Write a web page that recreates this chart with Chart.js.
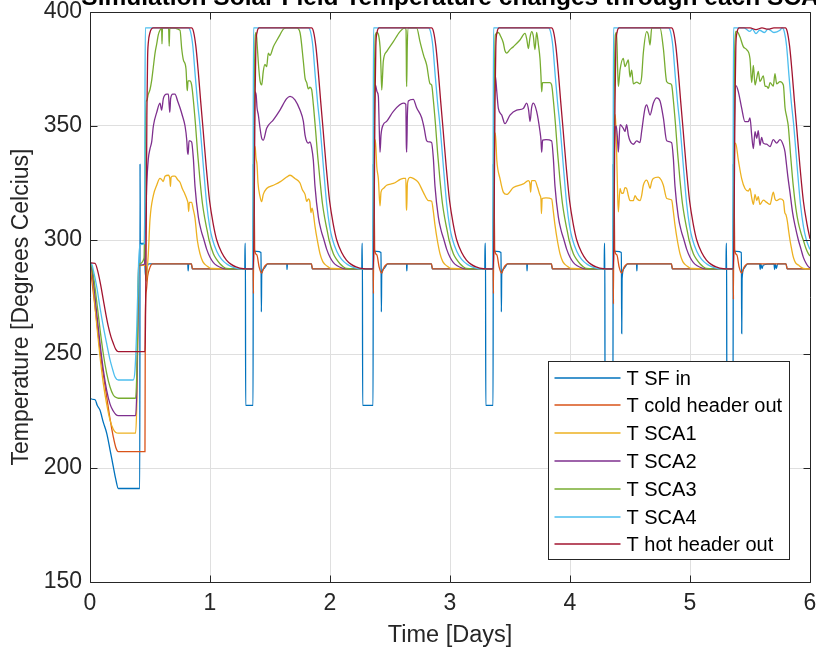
<!DOCTYPE html>
<html>
<head>
<meta charset="utf-8">
<script src="https://cdn.jsdelivr.net/npm/chart.js@4.4.1/dist/chart.umd.min.js"></script>
<style>
  html, body { margin: 0; padding: 0; background: #ffffff; }
  #chart { display: block; }
</style>
</head>
<body>
<canvas id="chart" width="816" height="653"></canvas>
<script>
// values: [day, temperature]
const chartTitle = "Simulation Solar Field Temperature changes through each SCA";
const yAxisTitle = "Temperature [Degrees Celcius]";
const seriesLabels = ["T SF in", "T cold header out", "T SCA1", "T SCA2", "T SCA3", "T SCA4", "T hot header out"];
const xTicks = [0, 1, 2, 3, 4, 5, 6];
const yTicks = [150, 200, 250, 300, 350, 400];

const tSfIn = [
  [0,290],[0.002,230.5],[0.042,230],[0.06,227.5],[0.083,225.4],[0.111,220],[0.139,215.3],[0.167,208],[0.194,200.6],[0.215,195],[0.236,191],[0.415,191],[0.417,333.5],[0.419,298.5],[0.456,298.5],[0.458,289],[0.465,284],[0.47,282],[0.475,287],[0.49,289.5],[0.815,289.5],[0.818,286.5],[0.822,289.5],[0.845,289.5],[0.852,287.3],
  [1.29,287.3],[1.292,298.5],[1.295,298.5],[1.297,227.5],[1.359,227.5],[1.361,333.5],[1.364,295],[1.39,295],[1.425,294.5],[1.428,268.5],[1.431,285],[1.45,287.5],[1.48,289.5],[1.64,289.5],[1.642,287],[1.645,289.5],[1.845,289.5],[1.852,287.3],
  [2.265,287.3],[2.267,298.5],[2.27,298.5],[2.272,227.5],[2.359,227.5],[2.361,333.5],[2.364,295],[2.39,295],[2.425,294.5],[2.428,268.5],[2.431,285],[2.45,287.5],[2.48,289.5],[2.638,289.5],[2.64,286.5],[2.643,289.5],[2.845,289.5],[2.852,287.3],
  [3.29,287.3],[3.292,298.5],[3.296,298.5],[3.298,227.5],[3.359,227.5],[3.361,333.5],[3.364,295],[3.39,295],[3.425,294.5],[3.428,268.5],[3.431,285],[3.45,287.5],[3.48,289.5],[3.64,289.5],[3.642,286.5],[3.645,289.5],[3.845,289.5],[3.852,287.3],
  [4.285,287.3],[4.287,298.5],[4.29,298.5],[4.292,227.5],[4.358,227.5],[4.36,333.5],[4.363,295],[4.39,295],[4.428,294.5],[4.431,259],[4.434,283],[4.45,287.5],[4.48,289.5],[4.555,289.5],[4.557,286.5],[4.56,289.5],[4.845,289.5],[4.852,287.3],
  [5.3,287.3],[5.302,298.5],[5.305,298.5],[5.307,227.5],[5.359,227.5],[5.361,333.5],[5.364,295],[5.39,295],[5.428,294.5],[5.431,259],[5.434,283],[5.45,287.5],[5.48,289.5],[5.58,289.5],[5.585,287],[5.59,289.5],[5.6,287.5],[5.61,289],[5.7,289.5],[5.705,287],[5.71,289.5],[5.72,287.5],[5.73,289.5],[5.8,289.5],[5.81,287.3],[6,287.3]
];

const tColdOut = [
  [0,290],[0.014,283],[0.042,270.7],[0.083,251.8],[0.111,241],[0.139,231.3],[0.167,221.5],[0.194,213.7],[0.215,209],[0.236,207.2],[0.458,207.2],[0.461,266],[0.47,278],[0.48,284],[0.5,288],[0.52,289.5],[0.845,289.5],[0.855,287.3],
  [1.36,287.3],[1.362,276.5],[1.367,328],[1.372,296],[1.39,293.5],[1.41,288],[1.43,285.5],[1.45,288],[1.48,289.5],[1.845,289.5],[1.855,287.3],
  [2.36,287.3],[2.362,276.5],[2.367,325],[2.372,296],[2.39,293.5],[2.41,288],[2.43,285.5],[2.45,288],[2.48,289.5],[2.845,289.5],[2.855,287.3],
  [3.36,287.3],[3.362,276.5],[3.367,325],[3.372,296],[3.39,293.5],[3.41,288],[3.43,285.5],[3.45,288],[3.48,289.5],[3.845,289.5],[3.855,287.3],
  [4.36,287.3],[4.362,272],[4.367,328],[4.372,296],[4.39,293.5],[4.41,288],[4.43,285.5],[4.45,288],[4.48,289.5],[4.845,289.5],[4.855,287.3],
  [5.36,287.3],[5.362,274],[5.367,326],[5.372,296],[5.39,293.5],[5.41,288],[5.43,285.5],[5.45,288],[5.48,289.5],[5.8,289.5],[5.81,287.3],[6,287.3]
];

const tSca1 = [
  [0,290],[0.014,286],[0.035,275],[0.056,263],[0.083,249],[0.111,237],[0.139,228],[0.167,221],[0.194,217],[0.215,215.6],[0.236,215.3],[0.38,215.3],[0.39,228],[0.4,262],[0.405,286],[0.41,288.5],[0.463,289],[0.468,282],[0.478,288],[0.486,294],[0.5,309],[0.528,319.6],[0.556,324],[0.583,327],[0.597,326.5],[0.61,325.6],[0.625,328],[0.653,328.4],[0.665,327],[0.67,323.5],[0.676,327.5],[0.69,328],[0.708,328],[0.73,326.5],[0.75,325.3],[0.77,322.5],[0.792,320],[0.81,317.5],[0.817,316],[0.822,312.5],[0.828,316.5],[0.847,316.5],[0.86,313.5],[0.875,309.6],[0.894,300],[0.917,293.9],[0.94,290.5],[0.958,289.3],[0.985,288.2],[1.014,287.5],
  [1.359,287.3],[1.362,300],[1.367,330],[1.376,341],[1.383,336],[1.392,333],[1.4,325],[1.417,319],[1.43,316.8],[1.444,320],[1.472,322.6],[1.528,324],[1.583,325.5],[1.639,327.6],[1.667,328.4],[1.708,327],[1.75,325],[1.77,322],[1.792,320],[1.806,317],[1.82,318],[1.833,316.5],[1.841,312],[1.85,314],[1.86,312],[1.875,306],[1.894,300],[1.917,293.9],[1.94,290.5],[1.958,289.3],[1.985,288.2],[2.014,287.5],
  [2.359,287.3],[2.362,300],[2.368,330],[2.378,344],[2.39,332],[2.403,326.8],[2.412,318],[2.417,315],[2.425,321],[2.444,322.6],[2.472,324],[2.528,324.8],[2.611,327],[2.632,327],[2.636,315],[2.639,313],[2.645,325],[2.667,327.5],[2.694,327],[2.736,325.3],[2.778,320.9],[2.819,317.3],[2.847,317],[2.86,313],[2.875,306.5],[2.894,300],[2.917,293.9],[2.94,290.5],[2.958,289.3],[2.985,288.2],[3.014,287.5],
  [3.359,287.3],[3.362,300],[3.368,332],[3.378,347],[3.39,335],[3.417,326.8],[3.444,321],[3.472,320],[3.528,323],[3.611,324.6],[3.653,326],[3.665,325],[3.672,321],[3.68,326],[3.708,326],[3.73,323],[3.75,319.6],[3.758,318],[3.762,311.6],[3.768,318.2],[3.8,318.5],[3.847,318],[3.86,313],[3.875,306.5],[3.894,300],[3.917,293.9],[3.94,290.5],[3.958,289.3],[3.985,288.2],[4.014,287.5],
  [4.359,287.3],[4.362,300],[4.368,340],[4.378,355],[4.388,340],[4.398,318],[4.403,312.3],[4.417,322.6],[4.43,320.5],[4.444,320.5],[4.458,323],[4.472,322.6],[4.486,319.5],[4.5,317.3],[4.528,317.3],[4.542,319.5],[4.556,318.2],[4.583,317.3],[4.597,319.5],[4.611,324],[4.639,326.3],[4.655,324.5],[4.667,322.6],[4.68,325.5],[4.694,327],[4.736,327.6],[4.76,326.3],[4.778,324],[4.806,318.2],[4.847,317.5],[4.86,313],[4.875,306.5],[4.894,300],[4.917,293.9],[4.94,290.5],[4.958,289.3],[4.985,288.2],[5.014,287.5],
  [5.36,287.3],[5.362,300],[5.368,330],[5.38,342.5],[5.403,335],[5.431,326.8],[5.458,322.6],[5.486,321.5],[5.5,322.6],[5.514,318.6],[5.528,315.6],[5.542,320],[5.556,317.3],[5.569,319],[5.583,315.6],[5.611,317.5],[5.639,316.5],[5.667,315.6],[5.694,321],[5.708,318],[5.722,317.3],[5.75,318],[5.778,317.3],[5.79,312],[5.8,311],[5.812,308],[5.822,304],[5.833,300],[5.847,296],[5.861,292.5],[5.88,290],[5.903,289],[5.944,287.6],[6,287.3]
];

const tSca2 = [
  [0,290],[0.014,287.5],[0.035,279],[0.056,268],[0.083,255],[0.111,243],[0.139,234],[0.167,228],[0.194,225],[0.215,223.5],[0.236,223],[0.38,223],[0.39,234],[0.4,266],[0.405,287],[0.41,289],[0.455,289.5],[0.462,305],[0.472,323.4],[0.486,335.6],[0.5,340],[0.514,343],[0.528,350],[0.556,356],[0.583,360],[0.597,357],[0.611,362],[0.639,364],[0.653,364],[0.66,359],[0.665,356],[0.672,362],[0.69,364],[0.708,364],[0.73,361],[0.75,358],[0.77,354.5],[0.792,350],[0.806,344],[0.812,339],[0.818,337.6],[0.825,343.5],[0.833,343.5],[0.847,343],[0.861,336],[0.875,323.5],[0.903,310],[0.927,304],[0.95,300],[0.972,296],[1.0,292.4],[1.027,290.2],[1.056,288.8],[1.107,287.6],[1.15,287.3],
  [1.359,287.3],[1.362,300],[1.368,340],[1.375,365],[1.385,363.5],[1.392,358],[1.403,354.8],[1.417,349],[1.431,344.6],[1.444,343.8],[1.472,349],[1.528,352.7],[1.583,357],[1.639,362],[1.667,363],[1.708,361.5],[1.75,357],[1.778,352],[1.792,346],[1.806,343.2],[1.82,342.5],[1.833,343],[1.847,340.5],[1.861,335],[1.875,323.5],[1.903,310],[1.927,304],[1.95,300],[1.972,296],[2.0,292.4],[2.027,290.2],[2.056,288.8],[2.107,287.6],[2.15,287.3],
  [2.359,287.3],[2.362,300],[2.368,345],[2.378,368],[2.392,365],[2.403,363],[2.41,350],[2.417,338.5],[2.425,346],[2.444,350.6],[2.472,352],[2.528,356.4],[2.611,360],[2.632,359.5],[2.636,342],[2.639,338.5],[2.645,355],[2.653,361],[2.694,361.7],[2.722,358],[2.764,353.6],[2.785,349],[2.806,343.5],[2.83,343],[2.847,342.7],[2.861,336],[2.875,323.5],[2.903,310],[2.927,304],[2.95,300],[2.972,296],[3.0,292.4],[3.027,290.2],[3.056,288.8],[3.107,287.6],[3.15,287.3],
  [3.359,287.3],[3.362,300],[3.368,350],[3.378,372],[3.39,365],[3.403,357.7],[3.431,354.8],[3.458,351],[3.5,354.8],[3.556,357],[3.611,357.7],[3.639,360],[3.655,357],[3.667,352],[3.68,358],[3.694,360],[3.722,356.4],[3.75,347.6],[3.758,344],[3.764,338.5],[3.772,343.8],[3.8,344],[3.847,343.5],[3.861,336],[3.875,323.5],[3.903,310],[3.927,304],[3.95,300],[3.972,296],[4.0,292.4],[4.027,290.2],[4.056,288.8],[4.107,287.6],[4.15,287.3],
  [4.359,287.3],[4.362,300],[4.37,340],[4.385,350],[4.395,345],[4.403,338.5],[4.417,350.6],[4.444,349],[4.458,347.6],[4.472,350.6],[4.486,346],[4.5,343.5],[4.528,342],[4.556,343.5],[4.583,342.7],[4.597,347.6],[4.625,357.7],[4.639,359.3],[4.667,354.8],[4.694,360],[4.722,362.3],[4.75,361],[4.778,353.6],[4.806,343.5],[4.847,342.7],[4.861,336],[4.875,323.5],[4.903,310],[4.927,304],[4.95,300],[4.972,296],[5.0,292.4],[5.027,290.2],[5.056,288.8],[5.107,287.6],[5.15,287.3],
  [5.36,287.3],[5.363,310],[5.37,350],[5.383,367.7],[5.403,365],[5.431,357.7],[5.458,351.9],[5.486,351.9],[5.5,353.6],[5.514,346],[5.528,340.1],[5.542,347.5],[5.556,344.6],[5.569,348],[5.583,341.5],[5.597,345],[5.611,342.5],[5.639,342],[5.667,341],[5.694,344],[5.722,342.5],[5.75,344],[5.778,341.5],[5.792,338.5],[5.8,335],[5.815,328],[5.833,321],[5.855,312],[5.875,306.4],[5.903,300],[5.925,296],[5.944,292.5],[5.965,290],[5.986,288.3],[6,287.8]
];

const tSca3 = [
  [0,290],[0.014,288.5],[0.035,282],[0.056,273],[0.083,261],[0.111,250],[0.139,241.5],[0.167,235.5],[0.194,232],[0.215,231],[0.236,230.6],[0.38,230.6],[0.39,242],[0.4,272],[0.405,288],[0.41,289.5],[0.45,292],[0.458,320],[0.465,361],[0.472,361],[0.486,364],[0.5,366],[0.514,370],[0.528,376],[0.542,382],[0.556,386],[0.569,390],[0.583,392],[0.597,393],[0.6,386],[0.604,393],[0.655,393],[0.66,385],[0.665,393],[0.75,392],[0.764,384],[0.778,379],[0.8,375],[0.808,367],[0.811,365.5],[0.817,369.8],[0.833,369.8],[0.847,368],[0.861,361.5],[0.88,350],[0.897,338],[0.917,326],[0.937,316],[0.958,309],[0.977,304],[0.992,300],[1.028,294],[1.055,291.5],[1.083,289.6],[1.11,288.3],[1.139,287.5],[1.2,287.3],
  [1.359,287.3],[1.362,310],[1.368,360],[1.378,390],[1.385,391],[1.395,384],[1.406,375.6],[1.417,369.8],[1.431,368],[1.444,374],[1.458,377],[1.472,376],[1.486,382],[1.5,381],[1.528,384.8],[1.556,387.5],[1.583,390],[1.611,392.5],[1.64,393],[1.722,393],[1.75,391],[1.778,378.3],[1.792,371],[1.806,369],[1.819,366.3],[1.833,367],[1.847,366],[1.861,359.5],[1.88,348],[1.897,337],[1.917,326],[1.937,316],[1.958,309],[1.977,304],[1.992,300],[2.028,294],[2.055,291.5],[2.083,289.6],[2.11,288.3],[2.139,287.5],[2.2,287.3],
  [2.359,287.3],[2.362,310],[2.368,360],[2.378,390],[2.389,391],[2.417,384.8],[2.425,375],[2.431,365.8],[2.438,372],[2.444,378.3],[2.472,382.6],[2.528,387],[2.583,391.4],[2.625,393],[2.634,392],[2.637,372],[2.639,367.3],[2.644,385],[2.653,393],[2.722,393],[2.75,387],[2.78,381],[2.806,376.7],[2.833,368.6],[2.847,368],[2.861,361.5],[2.88,350],[2.897,338],[2.917,326],[2.937,316],[2.958,309],[2.977,304],[2.992,300],[3.028,294],[3.055,291.5],[3.083,289.6],[3.11,288.3],[3.139,287.5],[3.2,287.3],
  [3.359,287.3],[3.362,310],[3.368,360],[3.378,390],[3.403,391],[3.425,389],[3.444,386.5],[3.458,383],[3.472,382],[3.5,383.5],[3.528,384.8],[3.583,387.7],[3.625,390.6],[3.64,388],[3.653,384],[3.667,389],[3.681,391.4],[3.694,389.5],[3.708,383.5],[3.722,391],[3.736,386],[3.75,379.5],[3.758,372],[3.764,365],[3.771,369],[3.833,369],[3.847,368],[3.861,361.5],[3.88,350],[3.897,338],[3.917,326],[3.937,316],[3.958,309],[3.977,304],[3.992,300],[4.028,294],[4.055,291.5],[4.083,289.6],[4.11,288.3],[4.139,287.5],[4.2,287.3],
  [4.359,287.3],[4.362,310],[4.368,360],[4.378,390],[4.388,391],[4.397,375],[4.403,367.3],[4.417,374.6],[4.444,379.7],[4.458,376],[4.472,377.5],[4.486,379],[4.5,371.5],[4.514,374.5],[4.528,368.5],[4.556,369.2],[4.583,368.5],[4.597,371.5],[4.611,382],[4.639,391.4],[4.653,390],[4.667,385.5],[4.681,393],[4.75,393],[4.778,384],[4.806,369.4],[4.833,368.6],[4.847,368],[4.861,361.5],[4.88,350],[4.897,338],[4.917,326],[4.937,316],[4.958,309],[4.977,304],[4.992,300],[5.028,294],[5.055,291.5],[5.083,289.6],[5.11,288.3],[5.139,287.5],[5.2,287.3],
  [5.36,287.3],[5.363,320],[5.37,375],[5.378,390],[5.383,391.5],[5.4,391],[5.417,389],[5.444,384.8],[5.472,383.5],[5.5,379.5],[5.514,369],[5.528,376.6],[5.542,368],[5.556,371],[5.569,374],[5.583,369.5],[5.611,372],[5.625,367.5],[5.639,367.4],[5.653,366.5],[5.667,369],[5.694,367.5],[5.708,373],[5.722,368.5],[5.75,369.5],[5.778,368],[5.792,358],[5.806,354],[5.819,350],[5.84,336],[5.861,323.5],[5.882,314],[5.903,307.5],[5.925,303],[5.944,300],[5.965,296.5],[5.986,294],[6,293]
];

const tSca4 = [
  [0,290],[0.014,289.5],[0.035,285],[0.056,279.5],[0.083,270.5],[0.111,262],[0.139,254.5],[0.167,247.4],[0.19,243],[0.208,240],[0.236,238.6],[0.36,238.6],[0.375,243],[0.39,262],[0.405,290],[0.417,298],[0.455,298.5],[0.458,360],[0.461,393],
  [0.82,393],[0.837,391.5],[0.857,385],[0.877,372],[0.897,360],[0.917,350],[0.942,334],[0.972,316],[0.997,306],[1.022,300],[1.057,295],[1.097,291.5],[1.147,289.2],[1.207,287.8],[1.267,287.3],
  [1.355,287.3],[1.359,330],[1.363,393],
  [1.82,393],[1.837,391.5],[1.857,385],[1.877,372],[1.897,360],[1.917,350],[1.942,334],[1.972,316],[1.997,306],[2.022,300],[2.057,295],[2.097,291.5],[2.147,289.2],[2.207,287.8],[2.267,287.3],
  [2.355,287.3],[2.359,330],[2.363,393],
  [2.82,393],[2.837,391.5],[2.857,385],[2.877,372],[2.897,360],[2.917,350],[2.942,334],[2.972,316],[2.997,306],[3.022,300],[3.057,295],[3.097,291.5],[3.147,289.2],[3.207,287.8],[3.267,287.3],
  [3.355,287.3],[3.359,330],[3.363,393],
  [3.82,393],[3.837,391.5],[3.857,385],[3.877,372],[3.897,360],[3.917,350],[3.942,334],[3.972,316],[3.997,306],[4.022,300],[4.057,295],[4.097,291.5],[4.147,289.2],[4.207,287.8],[4.267,287.3],
  [4.355,287.3],[4.359,330],[4.363,393],
  [4.82,393],[4.837,391.5],[4.857,385],[4.877,372],[4.897,360],[4.917,350],[4.942,334],[4.972,316],[4.997,306],[5.022,300],[5.057,295],[5.097,291.5],[5.147,289.2],[5.207,287.8],[5.267,287.3],
  [5.355,287.3],[5.359,330],[5.363,393],[5.45,393],[5.5,391.5],[5.52,392.5],[5.55,390.5],[5.58,392],[5.62,391],[5.65,392.5],[5.7,391],[5.75,392],[5.768,393],[5.785,391.5],[5.805,385],[5.825,372],[5.845,360],[5.865,350],[5.89,334],[5.92,316],[5.945,306],[5.97,300],[6,295.8]
];

const tHotOut = [
  [0,290],[0.042,289.8],[0.069,285.4],[0.09,280],[0.111,273.7],[0.132,267.5],[0.153,262],[0.175,257.5],[0.194,254.7],[0.215,252],[0.236,251],[0.458,251],[0.462,262],[0.468,300],[0.474,355],[0.48,380],[0.486,386.5],[0.5,391],[0.528,393],
  [0.847,393],[0.862,391.5],[0.882,385],[0.902,374],[0.922,361],[0.94,350],[0.967,333],[0.997,317],[1.027,307],[1.056,300],[1.097,294.5],[1.137,291.2],[1.177,289.3],[1.217,288.2],[1.277,287.4],[1.327,287.3],
  [1.36,287.3],[1.366,300],[1.375,360],[1.382,385],[1.392,391],[1.41,393],
  [1.847,393],[1.862,391.5],[1.882,385],[1.902,374],[1.922,361],[1.94,350],[1.967,333],[1.997,317],[2.027,307],[2.056,300],[2.097,294.5],[2.137,291.2],[2.177,289.3],[2.217,288.2],[2.277,287.4],[2.327,287.3],
  [2.36,287.3],[2.366,300],[2.375,360],[2.382,385],[2.392,391],[2.41,393],
  [2.847,393],[2.862,391.5],[2.882,385],[2.902,374],[2.922,361],[2.94,350],[2.967,333],[2.997,317],[3.027,307],[3.056,300],[3.097,294.5],[3.137,291.2],[3.177,289.3],[3.217,288.2],[3.277,287.4],[3.327,287.3],
  [3.36,287.3],[3.366,300],[3.375,360],[3.382,385],[3.392,391],[3.41,393],
  [3.847,393],[3.862,391.5],[3.882,385],[3.902,374],[3.922,361],[3.94,350],[3.967,333],[3.997,317],[4.027,307],[4.056,300],[4.097,294.5],[4.137,291.2],[4.177,289.3],[4.217,288.2],[4.277,287.4],[4.327,287.3],
  [4.36,287.3],[4.366,300],[4.375,360],[4.382,385],[4.392,391],[4.41,393],
  [4.847,393],[4.862,391.5],[4.882,385],[4.902,374],[4.922,361],[4.94,350],[4.967,333],[4.997,317],[5.027,307],[5.056,300],[5.097,294.5],[5.137,291.2],[5.177,289.3],[5.217,288.2],[5.277,287.4],[5.327,287.3],
  [5.36,287.3],[5.366,300],[5.375,360],[5.382,385],[5.392,391],[5.41,393],[5.5,393],[5.55,392.3],[5.6,393],[5.65,392.5],[5.7,393],
  [5.795,393],[5.81,391.5],[5.83,385],[5.85,374],[5.87,361],[5.888,350],[5.915,333],[5.945,317],[5.975,307],[6,300.5]
];

const seriesData = [tSfIn, tColdOut, tSca1, tSca2, tSca3, tSca4, tHotOut];
// MATLAB default line colours
const seriesColors = ["#0072BD", "#D95319", "#EDB120", "#7E2F8E", "#77AC30", "#4DBEEE", "#A2142F"];

const FONT = '"Liberation Sans", Arial, Helvetica, sans-serif';
const AXIS_COLOR = "#262626";

// box round the axes with MATLAB style inward ticks
const axesFrame = {
  id: "axesFrame",
  afterDatasetsDraw(chart) {
    const { ctx, chartArea: a, scales } = chart;
    const L = Math.round(a.left) + 0.5, R = Math.round(a.right) + 0.5;
    const T = Math.round(a.top) + 0.5, B = Math.round(a.bottom) + 0.5;
    ctx.save();
    ctx.strokeStyle = AXIS_COLOR;
    ctx.lineWidth = 1;
    ctx.beginPath();
    ctx.rect(L, T, R - L, B - T);
    xTicks.forEach((v) => {
      const px = Math.round(scales.x.getPixelForValue(v)) + 0.5;
      ctx.moveTo(px, B); ctx.lineTo(px, B - 7);
      ctx.moveTo(px, T); ctx.lineTo(px, T + 7);
    });
    yTicks.forEach((v) => {
      const py = Math.round(scales.y.getPixelForValue(v)) + 0.5;
      ctx.moveTo(L, py); ctx.lineTo(L + 7, py);
      ctx.moveTo(R, py); ctx.lineTo(R - 7, py);
    });
    ctx.stroke();
    ctx.restore();
  }
};

// opaque legend box in the lower right, drawn over the lines
const boxedLegend = {
  id: "boxedLegend",
  afterDraw(chart) {
    const { ctx } = chart;
    const x0 = 548.5, y0 = 361.5, w = 241, h = 198;
    ctx.save();
    ctx.fillStyle = "#ffffff";
    ctx.fillRect(x0, y0, w, h);
    ctx.strokeStyle = AXIS_COLOR;
    ctx.lineWidth = 1;
    ctx.strokeRect(x0, y0, w, h);
    ctx.font = "20px " + FONT;
    ctx.textBaseline = "middle";
    ctx.textAlign = "left";
    seriesLabels.forEach((label, i) => {
      const yy = Math.round(y0 + 16 + i * 27.8);
      ctx.strokeStyle = seriesColors[i];
      ctx.lineWidth = 1.6;
      ctx.beginPath();
      ctx.moveTo(x0 + 6, yy);
      ctx.lineTo(x0 + 72, yy);
      ctx.stroke();
      ctx.fillStyle = "#000000";
      ctx.fillText(label, x0 + 78, yy + 1);
    });
    ctx.restore();
  }
};

// title sits mostly above the canvas, only its lower part shows;
// the y label sits a little below the middle of the axes, as in the original
const texts = {
  id: "texts",
  afterDraw(chart) {
    const { ctx, chartArea: a } = chart;
    ctx.save();
    ctx.font = "bold 24.5px " + FONT;
    ctx.fillStyle = "#000000";
    ctx.textAlign = "center";
    ctx.textBaseline = "alphabetic";
    ctx.fillText(chartTitle, (a.left + a.right) / 2, 5);

    ctx.translate(22, (a.top + a.bottom) / 2 + 10);
    ctx.rotate(-Math.PI / 2);
    ctx.font = "23px " + FONT;
    ctx.fillStyle = AXIS_COLOR;
    ctx.textBaseline = "middle";
    ctx.fillText(yAxisTitle, 0, 0);
    ctx.restore();
  }
};

const datasets = seriesData.map((pts, i) => ({
  label: seriesLabels[i],
  data: pts.map((p) => ({ x: p[0], y: p[1] })),
  borderColor: seriesColors[i],
  backgroundColor: seriesColors[i],
  borderWidth: 1.3,
  pointRadius: 0,
  fill: false,
  cubicInterpolationMode: "monotone",
  order: seriesData.length - i
}));

new Chart(document.getElementById("chart"), {
  type: "line",
  data: { datasets },
  options: {
    responsive: false,
    animation: false,
    devicePixelRatio: 1,
    layout: { padding: { top: 12, right: 6, bottom: 0, left: 0 } },
    plugins: {
      legend: { display: false },
      tooltip: { enabled: false }
    },
    scales: {
      x: {
        type: "linear",
        min: 0,
        max: 6,
        afterBuildTicks: (s) => { s.ticks = xTicks.map((v) => ({ value: v })); },
        afterFit: (s) => { s.height = 71; s.paddingLeft = 0; s.paddingRight = 0; },
        ticks: { color: AXIS_COLOR, padding: 8, font: { family: FONT, size: 23 } },
        grid: { color: "#dfdfdf", drawTicks: false },
        border: { display: false },
        title: { display: true, text: "Time [Days]", color: AXIS_COLOR, font: { family: FONT, size: 23.5 }, padding: { top: 0, bottom: 3 } }
      },
      y: {
        min: 150,
        max: 400,
        afterBuildTicks: (s) => { s.ticks = yTicks.map((v) => ({ value: v })); },
        afterFit: (s) => { s.width = 90; s.paddingTop = 0; s.paddingBottom = 0; },
        ticks: { color: AXIS_COLOR, padding: 8, font: { family: FONT, size: 23 } },
        grid: { color: "#dfdfdf", drawTicks: false },
        border: { display: false },
        title: { display: false }
      }
    }
  },
  plugins: [axesFrame, boxedLegend, texts]
});
</script>
</body>
</html>
